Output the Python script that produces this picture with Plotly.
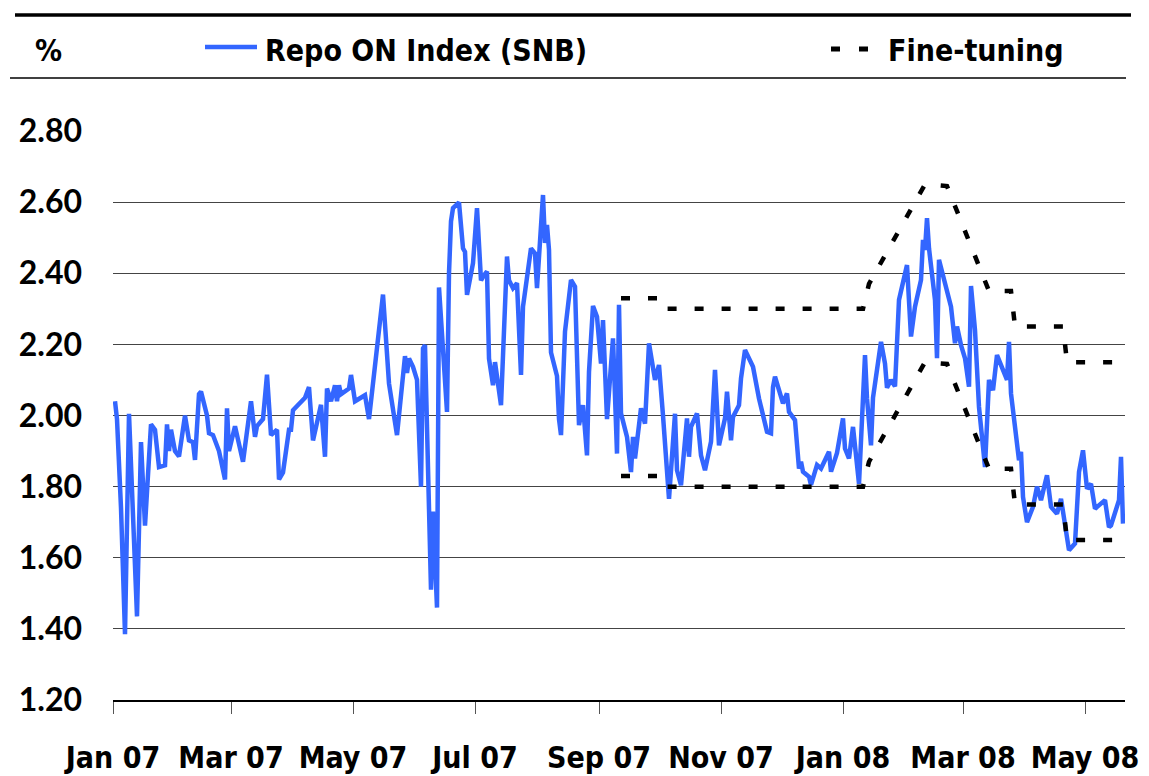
import plotly.graph_objects as go

# ---------------- data ----------------
repo_dates = [
    "2007-01-02", "2007-01-03", "2007-01-05", "2007-01-07", "2007-01-09", "2007-01-13", "2007-01-15",
    "2007-01-17", "2007-01-20", "2007-01-22", "2007-01-24", "2007-01-27", "2007-01-28", "2007-01-29",
    "2007-01-30", "2007-02-01", "2007-02-03", "2007-02-06", "2007-02-08", "2007-02-10", "2007-02-11",
    "2007-02-13", "2007-02-14", "2007-02-17", "2007-02-18", "2007-02-20", "2007-02-23", "2007-02-26",
    "2007-02-27", "2007-02-28", "2007-03-03", "2007-03-05", "2007-03-07", "2007-03-11", "2007-03-13",
    "2007-03-14", "2007-03-17", "2007-03-19", "2007-03-21", "2007-03-24", "2007-03-25", "2007-03-27",
    "2007-03-30", "2007-03-31", "2007-04-01", "2007-04-07", "2007-04-09", "2007-04-11", "2007-04-15",
    "2007-04-17", "2007-04-18", "2007-04-20", "2007-04-22", "2007-04-23", "2007-04-24", "2007-04-25",
    "2007-04-29", "2007-04-30", "2007-05-02", "2007-05-07", "2007-05-09", "2007-05-16", "2007-05-19",
    "2007-05-23", "2007-05-27", "2007-05-28", "2007-05-29", "2007-05-31", "2007-06-02", "2007-06-04",
    "2007-06-05", "2007-06-06", "2007-06-09", "2007-06-10", "2007-06-12", "2007-06-13", "2007-06-17",
    "2007-06-18", "2007-06-19", "2007-06-20", "2007-06-22", "2007-06-23", "2007-06-25", "2007-06-26",
    "2007-06-27", "2007-06-30", "2007-07-02", "2007-07-04", "2007-07-05", "2007-07-07", "2007-07-08",
    "2007-07-10", "2007-07-11", "2007-07-14", "2007-07-17", "2007-07-18", "2007-07-20", "2007-07-22",
    "2007-07-24", "2007-07-25", "2007-07-29", "2007-07-31", "2007-08-01", "2007-08-04", "2007-08-05",
    "2007-08-06", "2007-08-07", "2007-08-08", "2007-08-11", "2007-08-12", "2007-08-13", "2007-08-15",
    "2007-08-18", "2007-08-20", "2007-08-22", "2007-08-24", "2007-08-26", "2007-08-27", "2007-08-29",
    "2007-08-31", "2007-09-02", "2007-09-03", "2007-09-05", "2007-09-08", "2007-09-10", "2007-09-11",
    "2007-09-12", "2007-09-15", "2007-09-17", "2007-09-18", "2007-09-19", "2007-09-22", "2007-09-24",
    "2007-09-26", "2007-09-29", "2007-10-01", "2007-10-03", "2007-10-06", "2007-10-09", "2007-10-10",
    "2007-10-12", "2007-10-15", "2007-10-16", "2007-10-17", "2007-10-20", "2007-10-22", "2007-10-24",
    "2007-10-27", "2007-10-29", "2007-10-31", "2007-11-03", "2007-11-04", "2007-11-06", "2007-11-07",
    "2007-11-10", "2007-11-11", "2007-11-13", "2007-11-17", "2007-11-20", "2007-11-24", "2007-11-26",
    "2007-11-27", "2007-11-28", "2007-12-02", "2007-12-04", "2007-12-05", "2007-12-08", "2007-12-10",
    "2007-12-11", "2007-12-12", "2007-12-15", "2007-12-16", "2007-12-19", "2007-12-21", "2007-12-25",
    "2007-12-26", "2007-12-29", "2008-01-01", "2008-01-02", "2008-01-04", "2008-01-06", "2008-01-09",
    "2008-01-12", "2008-01-13", "2008-01-15", "2008-01-16", "2008-01-20", "2008-01-22", "2008-01-23",
    "2008-01-25", "2008-01-27", "2008-01-29", "2008-02-02", "2008-02-04", "2008-02-06", "2008-02-09",
    "2008-02-10", "2008-02-11", "2008-02-12", "2008-02-13", "2008-02-16", "2008-02-17", "2008-02-18",
    "2008-02-21", "2008-02-24", "2008-02-26", "2008-02-27", "2008-02-29", "2008-03-02", "2008-03-04",
    "2008-03-05", "2008-03-07", "2008-03-09", "2008-03-12", "2008-03-14", "2008-03-16", "2008-03-18",
    "2008-03-23", "2008-03-24", "2008-03-25", "2008-03-28", "2008-03-29", "2008-03-30", "2008-03-31",
    "2008-04-02", "2008-04-05", "2008-04-07", "2008-04-09", "2008-04-12", "2008-04-14", "2008-04-17",
    "2008-04-19", "2008-04-23", "2008-04-26", "2008-04-28", "2008-04-30", "2008-05-02", "2008-05-04",
    "2008-05-06", "2008-05-11", "2008-05-13", "2008-05-14", "2008-05-18", "2008-05-19", "2008-05-20",
]
repo_values = [
    2.04, 1.99, 1.74, 1.385, 2.005, 1.435, 1.925,
    1.69, 1.975, 1.96, 1.855, 1.86, 1.975, 1.90,
    1.96, 1.90, 1.885, 2.00, 1.93, 1.925, 1.875,
    2.06, 2.067, 2.00, 1.95, 1.945, 1.90, 1.82,
    2.02, 1.90, 1.97, 1.92, 1.87, 2.04, 1.94,
    1.97, 1.99, 2.115, 1.945, 1.96, 1.82, 1.84,
    1.96, 1.96, 2.015, 2.05, 2.08, 1.93, 2.03,
    1.884, 2.076, 2.04, 2.085, 2.04, 2.085, 2.06,
    2.076, 2.114, 2.04, 2.057, 1.99, 2.34, 2.09,
    1.945, 2.167, 2.12, 2.16, 2.137, 2.10, 1.80,
    2.189, 2.198, 1.51, 1.73, 1.46, 2.36, 2.01,
    2.40, 2.546, 2.583, 2.592, 2.599, 2.47, 2.46,
    2.339, 2.428, 2.583, 2.38, 2.39, 2.405, 2.16,
    2.085, 2.15, 2.029, 2.447, 2.38, 2.358, 2.372,
    2.114, 2.306, 2.47, 2.456, 2.358, 2.62, 2.485,
    2.536, 2.466, 2.177, 2.111, 1.99, 1.945, 2.236,
    2.381, 2.362, 1.973, 2.029, 1.888, 2.123, 2.308,
    2.278, 2.146, 2.268, 1.99, 2.217, 1.893, 2.311,
    2.006, 1.94, 1.841, 1.94, 1.879, 2.02, 1.977,
    2.203, 2.10, 2.142, 2.00, 1.766, 2.005, 1.846,
    1.804, 1.992, 1.884, 1.968, 2.006, 1.888, 1.846,
    1.926, 2.128, 1.916, 1.992, 2.067, 1.93, 1.996,
    2.029, 2.104, 2.184, 2.137, 2.048, 1.954, 1.95,
    2.08, 2.109, 2.034, 2.062, 2.01, 1.987, 1.851,
    1.87, 1.842, 1.828, 1.805, 1.861, 1.851, 1.898,
    1.842, 1.895, 1.992, 1.907, 1.879, 1.968, 1.808,
    2.17, 2.048, 1.916, 2.05, 2.207, 2.146, 2.078,
    2.10, 2.082, 2.325, 2.423, 2.222, 2.306, 2.381,
    2.494, 2.466, 2.555, 2.47, 2.325, 2.161, 2.438,
    2.367, 2.306, 2.203, 2.25, 2.198, 2.161, 2.081,
    2.364, 2.24, 2.024, 1.855, 2.10, 2.071, 2.17,
    2.10, 2.207, 2.062, 1.902, 1.874, 1.898, 1.771,
    1.70, 1.743, 1.80, 1.762, 1.832, 1.743, 1.724,
    1.766, 1.621, 1.64, 1.841, 1.902, 1.794, 1.808,
    1.738, 1.762, 1.686, 1.691, 1.762, 1.884, 1.696,
]

fine_dates = [
    "2007-09-12", "2007-10-01", "2007-10-03", "2008-01-11", "2008-01-14", "2008-02-11",
    "2008-02-22", "2008-03-14", "2008-03-25", "2008-03-27", "2008-04-20", "2008-04-22", "2008-05-16",
]
fine_upper = [2.33, 2.33, 2.30, 2.30, 2.37, 2.65, 2.645, 2.35, 2.35, 2.25, 2.25, 2.15, 2.15]
fine_lower = [1.83, 1.83, 1.80, 1.80, 1.87, 2.15, 2.145, 1.85, 1.85, 1.75, 1.75, 1.65, 1.65]

y_ticks = [1.20, 1.40, 1.60, 1.80, 2.00, 2.20, 2.40, 2.60, 2.80]

series_names = ["Repo ON Index (SNB)", "Fine-tuning"]
unit_label = "%"

# ---------------- styling ----------------
BLUE = "#3366FF"
COND = "DejaVu Sans Condensed, DejaVu Sans, sans-serif"
YFONT = "Lato, DejaVu Sans, sans-serif"

# the page body has an 8px margin, so the figure is 8px smaller than the window
OFF = 8
W, H = 1149 - OFF, 776 - OFF
# plot area in window pixels: x 113..1125, y 131..700
PL, PR, PT, PB = 113, 1125, 131, 700
L, R, T, B = PL - OFF, (W + OFF) - PR, PT - OFF, (H + OFF) - PB
PW, PH = PR - PL, PB - PT


def px(x):
    return (x - PL) / PW


def py(y):
    return (PB - y) / PH


fig = go.Figure()
fig.add_trace(go.Scatter(x=repo_dates, y=repo_values, mode="lines",
                         line=dict(color=BLUE, width=4.5), name=series_names[0],
                         showlegend=False))
fig.add_trace(go.Scatter(x=fine_dates, y=fine_upper, mode="lines",
                         line=dict(color="black", width=4.5, dash="9px,18px"),
                         name=series_names[1], showlegend=False))
fig.add_trace(go.Scatter(x=fine_dates, y=fine_lower, mode="lines",
                         line=dict(color="black", width=4.5, dash="9px,18px"),
                         name=series_names[1], showlegend=False))

shapes = [
    # top thick rule
    dict(type="line", xref="paper", yref="paper", x0=px(15), x1=px(1131), y0=py(15), y1=py(15),
         line=dict(color="black", width=3.5)),
    # thin rule under legend
    dict(type="line", xref="paper", yref="paper", x0=px(10), x1=px(1126), y0=py(78), y1=py(78),
         line=dict(color="black", width=1.5)),
    # legend samples
    dict(type="line", xref="paper", yref="paper", x0=px(205), x1=px(257), y0=py(47), y1=py(47),
         line=dict(color=BLUE, width=4.5)),
    dict(type="line", xref="paper", yref="paper", x0=px(831), x1=px(869), y0=py(49), y1=py(49),
         line=dict(color="black", width=5, dash="9px,19px")),
]

annotations = [
    dict(text=unit_label, xref="paper", yref="paper", x=px(33), y=py(51), xanchor="left",
         yanchor="middle", showarrow=False,
         font=dict(family=COND, size=30, color="black", weight="bold")),
    dict(text=series_names[0], xref="paper", yref="paper", x=px(263), y=py(51), xanchor="left",
         yanchor="middle", showarrow=False,
         font=dict(family=COND, size=30, color="black", weight="bold")),
    dict(text=series_names[1], xref="paper", yref="paper", x=px(886), y=py(51), xanchor="left",
         yanchor="middle", showarrow=False,
         font=dict(family=COND, size=30, color="black", weight="bold")),
]

fig.update_layout(
    width=W, height=H,
    margin=dict(l=L, r=R, t=T, b=B, autoexpand=False),
    paper_bgcolor="white", plot_bgcolor="white",
    shapes=shapes, annotations=annotations,
    showlegend=False,
)
fig.update_xaxes(
    type="date", range=["2007-01-01", "2008-05-21"],
    tick0="2007-01-01", dtick="M2", tickformat="%b %y",
    ticks="outside", ticklen=12, tickwidth=1, tickcolor="#555",
    showline=True, linecolor="black", linewidth=1.5,
    showgrid=False, zeroline=False,
    ticklabelstandoff=18,
    tickfont=dict(family=COND, size=30, color="black", weight="bold"),
)
fig.update_yaxes(
    range=[1.2, 2.8], tickvals=y_ticks, ticktext=[f"{v:.2f}" for v in y_ticks],
    showgrid=True, gridcolor="#444", gridwidth=1,
    zeroline=False, showline=False, ticks="",
    ticklabelstandoff=30,
    tickfont=dict(family=YFONT, size=32, color="black", weight="bold"),
)

fig.write_html("out.html")
